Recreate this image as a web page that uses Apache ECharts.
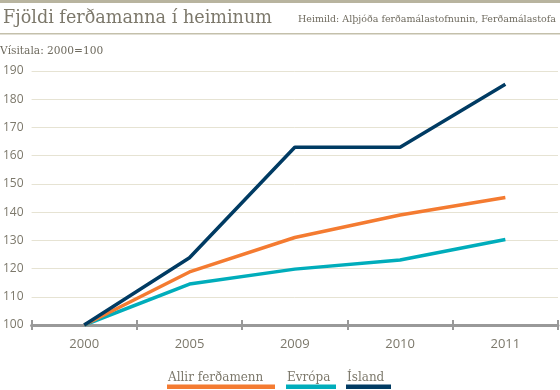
<!DOCTYPE html>
<html><head><meta charset="utf-8">
<script src="https://cdn.jsdelivr.net/npm/echarts@6/dist/echarts.min.js"></script>
<style>html,body{margin:0;padding:0;background:#fff}#c{width:560px;height:390px}</style>
</head><body><div id="c"></div>
<script>
var titleText = 'Fjöldi ferðamanna í heiminum';
var sourceText = 'Heimild: Alþjóða ferðamálastofnunin, Ferðamálastofa';
var unitText = 'Vísitala: 2000=100';
var categories = ['2000', '2005', '2009', '2010', '2011'];
var seriesNames = ['Allir ferðamenn', 'Evrópa', 'Ísland'];
var allir = [100, 118.8, 131, 139, 145.2];
var evropa = [100, 114.5, 119.8, 123, 130.3];
var island = [100, 123.8, 163, 163, 185.3];
var yTicks = [100, 110, 120, 130, 140, 150, 160, 170, 180, 190];

var colors = ['#f47b31', '#00adbb', '#003b63'];
var serif = 'DejaVu Serif';
var chart = echarts.init(document.getElementById('c'));

var legendTextX = [168, 287, 347];
var legendBarX = [167, 286, 346];
var legendBarW = [108, 50, 45];
function txt(x, y, s, size, fill){
  return {type:'text', style:{x:x, y:y, text:s, fontFamily:serif, fontSize:size, fill:fill, textVerticalAlign:'middle', verticalAlign:'middle'}};
}
var graphics = [
  {type:'rect', shape:{x:0,y:0,width:560,height:3}, style:{fill:'#b8b49f'}},
  {type:'rect', shape:{x:0,y:33,width:560,height:1.5}, style:{fill:'#c4c0ab'}},
  txt(3, 18.5, titleText, 17.6, '#7c786b'),
  txt(298, 19.4, sourceText, 9.5, '#6f6b5f'),
  txt(0, 51, unitText, 10.6, '#6f6b5f')
];
seriesNames.forEach(function(n, i){
  graphics.push(txt(legendTextX[i], 377.5, n, 12, '#7c786b'));
  graphics.push({type:'rect', shape:{x:legendBarX[i], y:384.5, width:legendBarW[i], height:4.5}, style:{fill:colors[i]}});
});

var option = {
  animation:false,
  color: colors,
  grid: {left:29, right:2, top:71, bottom:65},
  xAxis: [{
    type:'category', data:categories, boundaryGap:true,
    axisLine:{lineStyle:{color:'#999999', width:3}},
    axisTick:{show:true, length:5, lineStyle:{color:'#999999', width:2}},
    axisLabel:{color:'#7c786b', fontSize:13, fontFamily:'Open Sans', margin:13}
  },{
    type:'category', data:categories, boundaryGap:true, position:'bottom', offset:0,
    axisLine:{show:false},
    axisTick:{show:true, inside:true, length:5, lineStyle:{color:'#999999', width:2}},
    axisLabel:{show:false}
  }],
  yAxis: {
    type:'value', min:yTicks[0], max:yTicks[yTicks.length-1], interval:10,
    axisLine:{show:false}, axisTick:{show:false},
    axisLabel:{color:'#7c786b', fontSize:12, fontFamily:'Open Sans', margin:8},
    splitLine:{lineStyle:{color:'#e6e3d3', width:1}}
  },
  series: [
    {name:seriesNames[0], type:'line', data:allir, symbol:'none', lineStyle:{width:3.5}, z:3},
    {name:seriesNames[1], type:'line', data:evropa, symbol:'none', lineStyle:{width:3.5}, z:2},
    {name:seriesNames[2], type:'line', data:island, symbol:'none', lineStyle:{width:3.5}, z:4}
  ],
  graphic: graphics
};
chart.setOption(option);
</script></body></html>
